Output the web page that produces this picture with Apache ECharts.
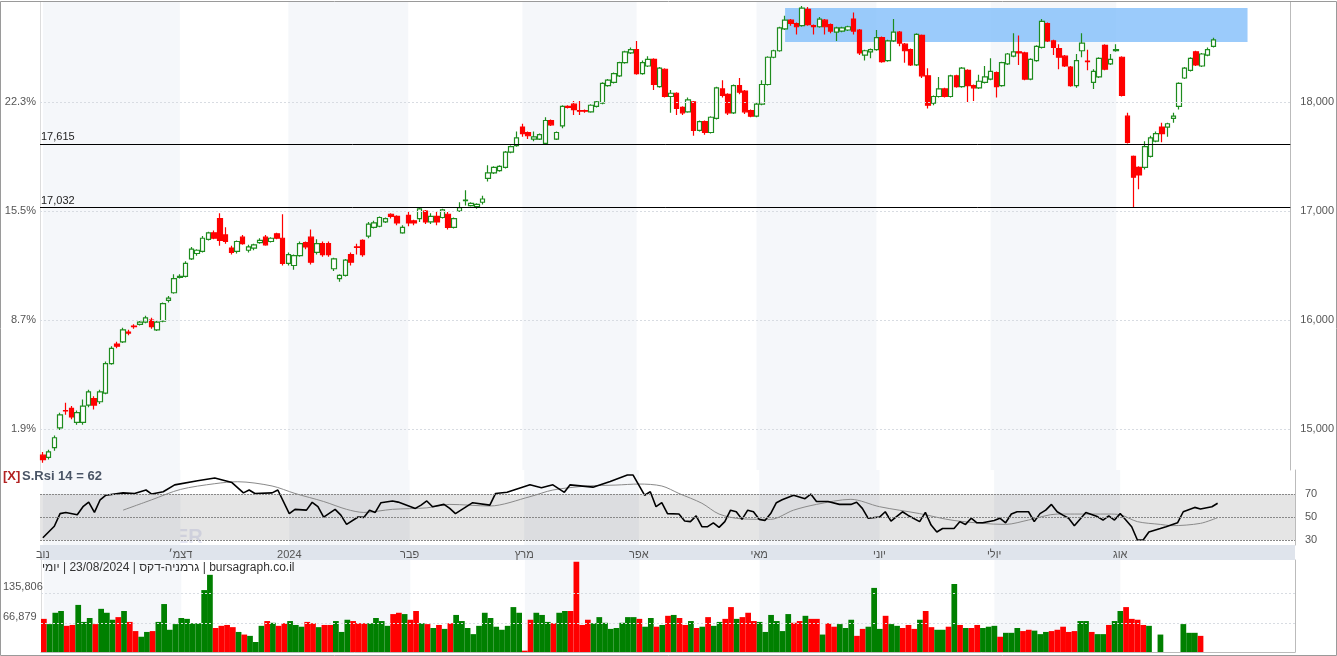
<!DOCTYPE html>
<html>
<head>
<meta charset="utf-8">
<script src="https://cdn.jsdelivr.net/npm/echarts@6/dist/echarts.min.js"></script>
<style>
html,body{margin:0;padding:0;background:#fff;}
#chart{width:1337px;height:656px;}
</style>
</head>
<body>
<div id="chart"></div>
<script>
// daily candles [open, close, low, high]
var candles = [
[14760,14720,14690,14790],[14740,14790,14720,14810],[14830,14920,14800,14940],[15010,15130,14990,15150],[15170,15165,15130,15240],
[15190,15110,15090,15210],[15060,15150,15040,15170],[15060,15210,15040,15270],[15220,15340,15200,15360],[15280,15220,15180,15300],
[15250,15340,15230,15360],[15330,15600,15320,15620],[15600,15740,15590,15760],[15780,15760,15740,15800],[15800,15910,15790,15930],
[15890,15880,15860,15910],[15945,15940,15920,15960],[15960,15980,15950,15990],[15980,16020,15970,16040],[16000,15940,15920,16020],
[15910,15980,15900,15990],[15990,16150,15980,16160],[16180,16200,16160,16220],[16250,16380,16240,16420],[16390,16400,16380,16420],
[16400,16520,16390,16540],[16560,16650,16550,16670],[16610,16640,16590,16650],[16630,16750,16620,16770],[16740,16800,16730,16810],
[16800,16750,16740,16820],[16930,16730,16680,16980],[16780,16720,16700,16850],[16660,16620,16600,16680],[16630,16720,16610,16730],
[16760,16700,16690,16780],[16640,16670,16620,16690],[16660,16690,16640,16700],[16710,16730,16700,16750],[16760,16690,16680,16780],
[16720,16750,16710,16760],[16790,16750,16740,16800],[16750,16520,16500,16970],[16520,16600,16500,16620],[16500,16590,16460,16600],
[16590,16700,16580,16720],[16710,16670,16650,16720],[16760,16530,16510,16830],[16620,16700,16600,16740],[16700,16600,16580,16720],
[16700,16600,16580,16720],[16470,16560,16450,16570],[16380,16410,16350,16420],[16410,16550,16400,16560],[16600,16530,16500,16620],
[16670,16665,16600,16700],[16730,16600,16580,16740],[16770,16880,16750,16900],[16850,16890,16840,16910],[16860,16940,16850,16950],
[16900,16930,16890,16940],[16970,16950,16930,16980],[16950,16890,16870,16960],[16800,16850,16790,16870],[16960,16890,16860,16990],
[16910,16890,16870,16920],[16930,17020,16900,17030],[17000,16900,16880,17010],[16900,16950,16880,16980],[16950,16900,16870,16990],
[16940,17010,16930,17020],[16970,16850,16830,16990],[16850,16930,16840,16940],[17000,17030,16990,17080],[17095,17100,17050,17190],
[17050,17070,17040,17080],[17040,17060,17020,17070],[17080,17110,17060,17140],[17300,17350,17270,17420],[17350,17400,17340,17410],
[17370,17410,17360,17420],[17400,17540,17390,17550],[17540,17590,17530,17600],[17600,17670,17590,17730],[17770,17710,17680,17800],
[17720,17690,17660,17730],[17660,17680,17640,17730],[17660,17700,17650,17710],[17620,17830,17610,17860],[17830,17790,17780,17840],
[17660,17720,17650,17730],[17780,17960,17760,17970],[17960,17950,17940,17970],[17980,17930,17880,18010],[17920,17915,17880,18010],
[17920,17915,17900,17930],[17910,17970,17900,17980],[17960,18000,17950,18010],[17990,18170,17980,18180],[18150,18200,18140,18210],
[18180,18260,18170,18270],[18240,18360,18230,18370],[18360,18460,18350,18470],[18450,18480,18440,18500],[18480,18260,18250,18560],
[18260,18360,18250,18380],[18330,18390,18320,18420],[18390,18160,18110,18400],[18140,18310,18130,18320],[18300,18050,18040,18310],
[18050,18080,17900,18110],[18080,17940,17880,18090],[17950,17900,17880,17960],[17910,18020,17900,18040],[18000,17740,17690,18010],
[17740,17820,17730,17830],[17820,17720,17700,17830],[17720,17860,17710,17870],[17850,18130,17840,18140],[18120,18060,18040,18200],
[18070,17900,17880,18080],[17900,18150,17890,18160],[18150,18090,18070,18220],[18100,17910,17890,18110],[17920,17870,17860,17930],
[17870,17980,17860,18000],[17980,18160,17970,18200],[18160,18410,18150,18420],[18410,18470,18400,18480],[18470,18680,18460,18690],
[18670,18750,18660,18790],[18750,18720,18700,18760],[18720,18690,18620,18730],[18700,18860,18690,18880],[18850,18710,18700,18870],
[18700,18690,18620,18710],[18690,18760,18680,18780],[18750,18690,18620,18760],[18710,18650,18630,18720],[18640,18680,18560,18690],
[18650,18680,18640,18690],[18660,18690,18650,18700],[18760,18650,18620,18820],[18660,18450,18430,18670],[18430,18470,18380,18480],
[18460,18480,18400,18490],[18480,18590,18470,18660],[18590,18370,18360,18600],[18380,18560,18370,18570],[18560,18640,18550,18760],
[18640,18540,18510,18650],[18530,18470,18360,18540],[18480,18340,18330,18490],[18340,18620,18330,18630],[18610,18240,18220,18620],
[18240,17970,17940,18310],[17990,18050,17970,18060],[18050,18120,18040,18230],[18120,18050,18040,18130],[18050,18240,18040,18250],
[18240,18140,18130,18250],[18140,18310,18130,18320],[18290,18150,18000,18300],[18150,18130,18010,18160],[18130,18190,18120,18250],
[18180,18230,18170,18330],[18210,18280,18200,18400],[18270,18140,18040,18280],[18150,18360,18140,18370],[18350,18440,18340,18450],
[18420,18460,18410,18630],[18460,18450,18340,18610],[18450,18210,18200,18460],[18210,18390,18200,18400],[18380,18510,18370,18520],
[18500,18740,18490,18760],[18720,18560,18550,18730],[18560,18500,18430,18570],[18490,18410,18300,18530],[18420,18330,18320,18430],
[18320,18150,18140,18330],[18150,18380,18130,18440],[18470,18540,18410,18630],[18375,18370,18290,18480],[18180,18280,18120,18300],
[18230,18400,18220,18410],[18520,18300,18290,18530],[18350,18390,18340,18440],[18470,18480,18460,18530],[18410,18060,18050,18420],
[17870,17630,17620,17900],[17500,17310,17030,17510],[17400,17330,17200,17410],[17400,17590,17380,17640],[17500,17670,17490,17690],
[17640,17710,17630,17730],[17770,17710,17630,17810],[17770,17800,17680,17810],[17850,17870,17810,17900],[17960,18170,17930,18180],
[18220,18310,18210,18320],[18290,18400,18280,18410],[18460,18340,18330,18470],[18330,18440,18320,18450],[18430,18480,18420,18500],
[18510,18570,18500,18590]
];

var volumes = [
76000,64000,90000,94000,60000,62000,108000,69000,78000,64000,
99000,90000,74000,80000,94000,69000,48000,35000,46000,48000,
69000,110000,51000,64000,78000,76000,66000,66000,142000,177000,
55000,60000,62000,57000,46000,40000,37000,23000,60000,71000,
67000,60000,66000,71000,62000,58000,69000,66000,57000,62000,
62000,71000,46000,74000,71000,66000,66000,66000,78000,71000,
60000,87000,90000,87000,74000,94000,66000,64000,55000,62000,
53000,66000,85000,71000,55000,41000,60000,90000,78000,58000,
51000,60000,103000,90000,3000,74000,90000,85000,69000,66000,
90000,94000,94000,207000,62000,74000,66000,80000,67000,53000,
55000,67000,80000,
80000,76000,58000,78000,58000,62000,83000,85000,78000,62000,
71000,55000,58000,80000,60000,69000,76000,103000,76000,80000,
90000,71000,69000,46000,85000,71000,48000,87000,67000,71000,
83000,76000,76000,40000,66000,58000,64000,55000,74000,37000,
53000,58000,147000,53000,83000,64000,60000,55000,62000,53000,
74000,94000,57000,51000,51000,58000,156000,62000,55000,55000,
62000,55000,58000,60000,35000,44000,44000,55000,48000,51000,
49000,41000,46000,48000,51000,58000,46000,48000,71000,71000,
46000,41000,41000,62000,71000,94000,103000,76000,74000,62000,
60000,null,40000,null,null,null,64000,44000,44000,37000,null,null,null
];

// RSI 14: [candle index, value]
var rsiLine = [
[0,32],[2,42],[3,53],[4,54],[6,52],[7,59],[8,63],[9,54],[10,65],[11,69],[14,71],[16,70.5],[18,73.5],[19,70],[21,72],
[23,78],[27,81.6],[30,84],[33,80],[35,71],[36,73.5],[37,70.5],[40,71],[41,73.5],[43,53],[44,56.7],[46,56],[47,62.8],
[48,59],[49,50],[51,56.7],[52,51.7],[53,43.6],[55,50],[56,49.7],[57,56],[58,54],[59,62.5],[61,64],[62,63],[65,57.5],
[66,60.4],[67,64],[68,59],[70,61],[71,57.5],[72,53],[75,62.5],[78,60.4],[79,70.5],[81,71.5],[85,78],[87,75.5],[89,78],
[91,71.5],[92,78],[96,76],[99,81],[102,86.5],[103,86.5],[105,69],[106,72],[107,59],[108,62.5],[109,53],[111,52.6],
[112,46.5],[113,46],[114,51],[115,41.6],[116,41.6],[117,45],[118,41],[119,46],[120,56],[121,54.6],[122,48],[123,56],
[124,54.6],[125,48],[126,47],[127,53],[128,62.5],[129,65],[131,69],[133,66],[134,70],[135,63.5],[137,63.5],[139,61],
[141,61],[142,62.8],[143,57.5],[144,49],[146,50],[147,54.6],[148,46.5],[150,54.6],[151,51.4],[153,46],[154,54],
[155,43],[156,37],[157,40],[159,40],[160,46],[161,43.6],[162,49],[163,45],[164,45],[166,47],[167,49],[168,45],
[169,52.6],[170,54.6],[172,54.6],[173,46],[174,53],[175,56],[176,61],[177,54.6],[178,51.7],[179,49],[180,42.5],
[182,54],[184,50.4],[185,47.4],[186,51],[187,47.4],[188,53],[190,41.6],[191,30],[192,30],[193,37],[195,40],
[196,41.6],[198,45],[199,54.6],[201,58.4],[202,57],[204,59],[205,62]
];
var rsiAvg = [
[14,56],[19,65],[24,74],[30,79],[34,80.7],[40,77],[44,70.5],[49,63.5],[53,56.7],[56,54],[61,56.7],[67,58],[71,61],
[78,59.6],[85,67.7],[89,73.5],[95,77],[100,77.8],[104,78.7],[108,77],[111,70.5],[115,62],[118,52.6],[122,48.4],
[127,48],[131,56],[135,61],[141,65.4],[146,59],[153,53],[159,47],[168,43.6],[172,47.4],[177,52.6],[180,52.6],
[186,52.6],[188,52],[191,46],[195,43.6],[197,42.5],[202,44.5],[205,49.5]
];

var priceTicks = [15000, 16000, 17000, 18000];
var rsiTicks = [30, 50, 70];
var volTicks = [66879, 135806];
var levelLines = [17615, 17032];
var zone = {from: 130, to: 211, low: 18550, high: 18862};
var basePrice = 14720;
// first candle of each month and its label
var monthStarts = [0, 24, 43, 64, 84, 104, 125, 146, 166, 188];
var monthLabels = ['נוב', 'דצמ׳', '2024', 'פבר', 'מרץ', 'אפר', 'מאי', 'יוני', 'יולי', 'אוג'];

var SLOTS = 219;
var slots = [];
for (var i = 0; i < SLOTS; i++) slots.push(String(i));
var labelAt = {};
monthStarts.forEach((s, k) => labelAt[s] = monthLabels[k]);
var bands = [];
for (var k = 0; k < monthStarts.length; k += 2) {
    bands.push([monthStarts[k], k + 1 < monthStarts.length ? monthStarts[k + 1] : SLOTS - 1]);
}

function bandAreas() {
    return bands.map(b => [{xAxis: b[0], itemStyle: {color: '#f5f7fa'}}, {xAxis: b[1]}]);
}

var volData = volumes.map(function (v, i) {
    if (v == null) return null;
    var c = candles[i];
    return {value: v, itemStyle: {color: c && c[1] < c[0] ? '#ff0000' : '#008000'}};
});

var fmt = v => v.toLocaleString('en-US');
var GREY = '#555';
var chart = echarts.init(document.getElementById('chart'));
var option = {
    animation: false,
    backgroundColor: '#fff',
    grid: [
        {left: 40, right: 42, top: 2, height: 468},
        {left: 40, right: 42, top: 470, height: 75},
        {left: 40, right: 42, top: 560, height: 92}
    ],
    xAxis: [0, 1, 2].map(function (g) {
        return {
            type: 'category', gridIndex: g, data: slots, boundaryGap: true,
            axisLine: {show: g == 2, lineStyle: {color: '#bbb'}}, axisTick: {show: false},
            splitLine: {show: false},
            axisLabel: g == 1 ? {
                show: true, interval: 0, margin: 4, color: GREY, fontSize: 11, fontFamily: 'Arial',
                formatter: (v, idx) => labelAt[idx] || ''
            } : {show: false}
        };
    }),
    yAxis: [
        {type: 'value', gridIndex: 0, position: 'right', min: 14624, max: 18917,
            axisLine: {show: true, lineStyle: {color: '#bbb'}}, axisTick: {show: false},
            axisLabel: {customValues: priceTicks, color: GREY, fontSize: 11, fontFamily: 'Arial', margin: 10, formatter: fmt},
            splitLine: {show: false}},
        {type: 'value', gridIndex: 0, position: 'left', min: 14624, max: 18917,
            axisLine: {show: true, lineStyle: {color: '#ddd'}}, axisTick: {show: false},
            axisLabel: {customValues: priceTicks, color: GREY, fontSize: 11, fontFamily: 'Arial', margin: 4,
                padding: [0, 0, 3, 0],
                formatter: v => ((v / basePrice - 1) * 100).toFixed(1) + '%'},
            splitLine: {show: false}},
        {type: 'value', gridIndex: 1, position: 'right', min: 25.7, max: 90.9,
            axisLine: {show: true, lineStyle: {color: '#bbb'}}, axisTick: {show: false},
            axisLabel: {customValues: rsiTicks, color: GREY, fontSize: 11, fontFamily: 'Arial', margin: 10},
            splitLine: {show: false}},
        {type: 'value', gridIndex: 2, position: 'left', min: 0, max: 211000,
            axisLine: {show: true, lineStyle: {color: '#ddd'}}, axisTick: {show: false},
            axisLabel: {customValues: volTicks, color: GREY, fontSize: 11, fontFamily: 'Arial', margin: 0,
                align: 'left', padding: [0, 0, 0, -38], verticalAlign: 'bottom', formatter: fmt},
            splitLine: {show: false}},
        {type: 'value', gridIndex: 2, position: 'right', min: 0, max: 211000,
            axisLine: {show: true, lineStyle: {color: '#bbb'}}, axisTick: {show: false},
            axisLabel: {show: false}, splitLine: {show: false}}
    ],
    series: [
        {type: 'line', xAxisIndex: 0, yAxisIndex: 0, data: [], silent: true, z: 0,
            markArea: {silent: true, data: bandAreas()},
            markLine: {silent: true, symbol: 'none', label: {show: false},
                lineStyle: {color: '#d8dce2', type: [2, 2], width: 1},
                data: priceTicks.map(v => ({yAxis: v}))}},
        {type: 'line', xAxisIndex: 0, yAxisIndex: 0, data: [], silent: true, z: 1,
            markArea: {silent: true, itemStyle: {color: 'rgba(130,190,250,0.8)'},
                data: [[{xAxis: zone.from, yAxis: zone.low}, {xAxis: zone.to, yAxis: zone.high}]]}},
        {type: 'candlestick', xAxisIndex: 0, yAxisIndex: 0, data: candles, barWidth: 5, z: 3,
            itemStyle: {color: '#ffffff', borderColor: '#1e8c1e', color0: '#ff0000', borderColor0: '#ff0000', borderWidth: 1.2},
            markLine: {silent: true, symbol: 'none',
                lineStyle: {color: '#000', type: 'solid', width: 1},
                label: {position: 'insideStartTop', distance: [1, 1], color: '#222', fontSize: 11, fontFamily: 'Arial', formatter: p => fmt(p.value)},
                data: levelLines.map(v => ({yAxis: v}))}},
        {type: 'line', xAxisIndex: 1, yAxisIndex: 2, data: [], silent: true, z: 0,
            markArea: {silent: true, data: bandAreas().concat([[{yAxis: 30, itemStyle: {color: 'rgba(0,0,0,0.1)'}}, {yAxis: 70}]])},
            markLine: {silent: true, symbol: 'none', label: {show: false},
                lineStyle: {color: '#888', type: [2, 1], width: 1},
                data: rsiTicks.map(v => ({yAxis: v}))}},
        {type: 'line', xAxisIndex: 1, yAxisIndex: 2, data: rsiAvg, showSymbol: false, smooth: 0.3,
            lineStyle: {color: '#8a8a8a', width: 1}, z: 2},
        {type: 'line', xAxisIndex: 1, yAxisIndex: 2, data: rsiLine, showSymbol: false,
            lineStyle: {color: '#000', width: 1.6}, z: 3},
        {type: 'line', xAxisIndex: 2, yAxisIndex: 3, data: [], silent: true, z: 0,
            markArea: {silent: true, data: bandAreas()},
            markLine: {silent: true, symbol: 'none', label: {show: false},
                lineStyle: {color: '#d8dce2', type: [2, 2], width: 1},
                data: volTicks.map(v => ({yAxis: v}))}},
        {type: 'bar', xAxisIndex: 2, yAxisIndex: 3, data: volData, barCategoryGap: '0%', z: 2}
    ],
    graphic: [
        {type: 'rect', shape: {x: 40, y: 545, width: 1255, height: 15}, style: {fill: '#dfe4ec'}, z: -1, silent: true},
        {type: 'rect', shape: {x: 0.5, y: 1.5, width: 1336, height: 654}, style: {fill: 'none', stroke: '#9a9a9a', lineWidth: 1}, silent: true, z: 10},
        {type: 'text', left: 3, top: 470, z: 10, style: {text: '[X]', fill: '#b22222', font: 'bold 13px Arial'}},
        {type: 'text', left: 22, top: 470, z: 10, style: {text: 'S.Rsi 14 = 62', fill: '#4a5566', font: 'bold 13px Arial'}},
        {type: 'text', left: 42, top: 562, z: 10, style: {
            text: '{a|יומי}{a| | 23/08/2024 | }{a|גרמניה-דקס}{a| | bursagraph.co.il}',
            rich: {a: {fill: '#333', fontSize: 12, fontFamily: 'Arial'}}}},
        {type: 'text', left: 105, top: 527, z: 1, style: {text: 'SPONSER', fill: 'rgba(120,130,200,0.18)', font: 'bold 20px Arial'}}
    ]
};
chart.setOption(option);
</script>
</body>
</html>
